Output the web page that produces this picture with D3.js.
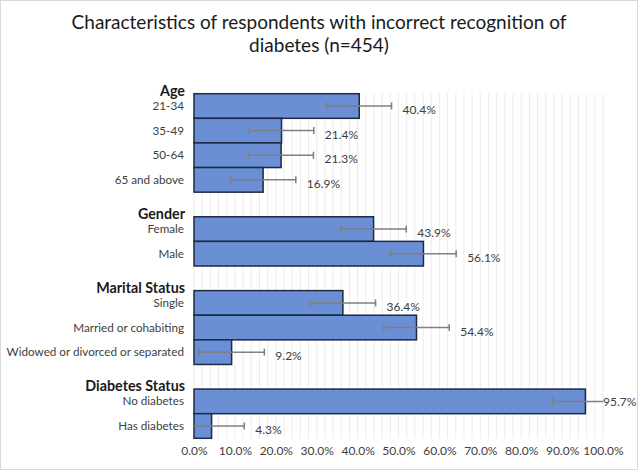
<!DOCTYPE html>
<html>
<head>
<meta charset="utf-8">
<script src="https://cdn.jsdelivr.net/npm/d3@7"></script>
<style>
  body { margin: 0; background: #fff; }
  text { font-family: Lato, "Open Sans", sans-serif; fill: #404040; }
</style>
</head>
<body>
<svg id="chart" width="638" height="471"></svg>
<script>
// Data
let groups = ["Age", "Gender", "Marital Status", "Diabetes Status"];
let groupSizes = [4, 2, 3, 2];
let categories = ["21-34", "35-49", "50-64", "65 and above",
  "Female", "Male",
  "Single", "Married or cohabiting", "Widowed or divorced or separated",
  "No diabetes", "Has diabetes"];
let values = [40.4, 21.4, 21.3, 16.9, 43.9, 56.1, 36.4, 54.4, 9.2, 95.7, 4.3];
let errors = [7.9, 7.9, 7.9, 8.0, 8.0, 8.0, 8.0, 8.0, 8.0, 8.0, 8.0];
let xTicks = [0, 10, 20, 30, 40, 50, 60, 70, 80, 90, 100];

let svg = d3.select("#chart");
let W = 638, H = 471;

// chart area border
svg.append("rect").attr("x", 0.5).attr("y", 0.5).attr("width", W - 1).attr("height", H - 2)
  .attr("fill", "#fff").attr("stroke", "#d9d9d9");

// title
let title = svg.append("text").attr("text-anchor", "middle").attr("font-size", 19).style("fill", "#1a1a1a");
title.append("tspan").attr("x", 319).attr("y", 29).text("Characteristics of respondents with incorrect recognition of");
title.append("tspan").attr("x", 319).attr("y", 52).text("diabetes (n=454)");

// rows: categories with a blank row between groups
let rows = [];
let groupFirst = [];
let k = 0;
groups.forEach((g, gi) => {
  groupFirst.push(k);
  for (let j = 0; j < groupSizes[gi]; j++) {
    rows.push({ key: "c" + k, idx: k });
    k++;
  }
  if (gi < groups.length - 1) rows.push({ key: "gap" + gi, idx: -1 });
});

let x = d3.scaleLinear().domain([0, 100]).range([194, 603]);
let y = d3.scaleBand().domain(rows.map(r => r.key)).range([93.7, 438.3]).padding(0);

// gridlines every 2%
svg.append("g").selectAll("line").data(d3.range(0, 101, 2)).enter().append("line")
  .attr("x1", d => x(d)).attr("x2", d => x(d))
  .attr("y1", y.range()[0]).attr("y2", y.range()[1])
  .attr("stroke", "#ebebeb").attr("stroke-width", 1);

// x axis labels
let xAxis = svg.append("g").attr("transform", `translate(0,${y.range()[1]})`)
  .call(d3.axisBottom(x).tickValues(xTicks).tickFormat(d => d.toFixed(1) + "%").tickSize(0).tickPadding(8));
xAxis.select(".domain").remove();
xAxis.selectAll("text").attr("font-size", 12).attr("font-family", "Lato, sans-serif").style("fill", "#404040");

let catRows = rows.filter(r => r.idx >= 0);

// bars
svg.append("g").selectAll("rect").data(catRows).enter().append("rect")
  .attr("x", x(0)).attr("y", d => y(d.key))
  .attr("width", d => x(values[d.idx]) - x(0)).attr("height", y.bandwidth())
  .attr("fill", "#6a8fd4").attr("stroke", "#1c2a44").attr("stroke-width", 1.5);

// error bars
let eb = svg.append("g").attr("stroke", "#7f7f7f").attr("stroke-width", 1.5);
catRows.forEach(d => {
  let v = values[d.idx], e = errors[d.idx];
  let cy = y(d.key) + y.bandwidth() / 2;
  let lo = Math.max(0, v - e), hi = Math.min(100, v + e);
  eb.append("line").attr("x1", x(lo)).attr("x2", x(hi)).attr("y1", cy).attr("y2", cy);
  if (v - e >= 0) eb.append("line").attr("x1", x(v - e)).attr("x2", x(v - e)).attr("y1", cy - 3.5).attr("y2", cy + 3.5);
  if (v + e <= 100) eb.append("line").attr("x1", x(v + e)).attr("x2", x(v + e)).attr("y1", cy - 3.5).attr("y2", cy + 3.5);
});

// value labels
svg.append("g").selectAll("text").data(catRows).enter().append("text")
  .attr("x", d => Math.min(x(values[d.idx] + errors[d.idx]) + 11, x(100)))
  .attr("y", d => y(d.key) + y.bandwidth() / 2 + (values[d.idx] + errors[d.idx] > 100 ? 0 : 4))
  .attr("dy", "0.35em").attr("font-size", 12)
  .text(d => values[d.idx].toFixed(1) + "%");

// category labels
svg.append("g").selectAll("text").data(catRows).enter().append("text")
  .attr("x", 184).attr("y", d => y(d.key) + y.bandwidth() / 2)
  .attr("dy", "0.35em").attr("text-anchor", "end").attr("font-size", 11.7)
  .text(d => categories[d.idx]);

// group headers
svg.append("g").selectAll("text").data(groups).enter().append("text")
  .attr("x", 185).attr("y", (g, i) => y("c" + groupFirst[i]) + y.bandwidth() / 2 - 15)
  .attr("dy", "0.35em").attr("text-anchor", "end").attr("font-size", 14.3).attr("font-weight", "bold")
  .style("fill", "#1a1a1a")
  .text(g => g);
</script>
</body>
</html>
